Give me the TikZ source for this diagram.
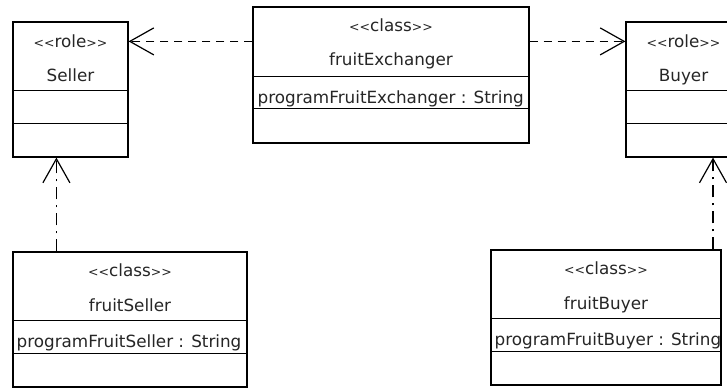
\documentclass[tikz,border=0pt]{standalone}
\usepackage{fontspec}
\newfontfamily\umlfont{DejaVu Sans}
\usetikzlibrary{arrows.meta,calc,shadows}
\newcommand{\lt}{{\fontsize{12.5}{14}\selectfont<{}<}}
\newcommand{\gt}{{\fontsize{12.5}{14}\selectfont>{}>}}
\begin{document}
\begin{tikzpicture}[x=1pt,y=1pt,
  umlbox/.style={draw=black,line width=1.2pt,fill=white,rectangle,inner sep=0pt,
     drop shadow={shadow xshift=1.3pt,shadow yshift=-1.3pt,fill=black,opacity=0.3}},
  lbl/.style={inner sep=0pt,anchor=base,font=\umlfont\fontsize{16.8}{20}\selectfont,text=black!85},
  attr/.style={inner sep=0pt,anchor=base west,font=\umlfont\fontsize{16.8}{20}\selectfont,text=black!85},
  sep/.style={line width=1.1pt},
  dep/.style={line width=1.2pt,dash pattern=on 8pt off 6pt,-{Straight Barb[length=24pt,width=27pt]}},
  real/.style={line width=1.2pt,dash pattern=on 12pt off 6pt on 2pt off 6pt,-{Straight Barb[length=24pt,width=27pt]}}
]
\clip (0,0) rectangle (727,388);
\fill[white] (0,0) rectangle (727,388);
% boxes
\node[umlbox,minimum width=115pt,minimum height=135pt] (seller) at (70.5,298.5) {};
\node[umlbox,minimum width=276pt,minimum height=136pt] (ex) at (391,313) {};
\node[umlbox,minimum width=115pt,minimum height=135pt] (buyer) at (683.5,298.5) {};
\node[umlbox,minimum width=234pt,minimum height=135pt] (fs) at (130,68.5) {};
\node[umlbox,minimum width=230pt,minimum height=135pt] (fb) at (606,70.5) {};
% compartments
\draw[sep] ($(seller.north west)+(0,-69)$) -- ($(seller.north east)+(0,-69)$);
\draw[sep] ($(seller.north west)+(0,-102)$) -- ($(seller.north east)+(0,-102)$);
\draw[sep] ($(buyer.north west)+(0,-69)$) -- ($(buyer.north east)+(0,-69)$);
\draw[sep] ($(buyer.north west)+(0,-102)$) -- ($(buyer.north east)+(0,-102)$);
\draw[sep] ($(ex.north west)+(0,-70)$) -- ($(ex.north east)+(0,-70)$);
\draw[sep] ($(ex.north west)+(0,-102)$) -- ($(ex.north east)+(0,-102)$);
\draw[sep] ($(fs.north west)+(0,-69)$) -- ($(fs.north east)+(0,-69)$);
\draw[sep] ($(fs.north west)+(0,-102)$) -- ($(fs.north east)+(0,-102)$);
\draw[sep] ($(fb.north west)+(0,-69)$) -- ($(fb.north east)+(0,-69)$);
\draw[sep] ($(fb.north west)+(0,-102)$) -- ($(fb.north east)+(0,-102)$);
% texts
\node[lbl] (sellerst) at ($(seller.north)+(0,-26)$) {\lt role\gt};
\node[lbl] (sellernm) at ($(seller.north)+(0,-60)$) {Seller};
\node[lbl] (buyerst) at ($(buyer.north)+(0,-26)$) {\lt role\gt};
\node[lbl] (buyernm) at ($(buyer.north)+(0,-60)$) {Buyer};
\node[lbl] (exst) at ($(ex.north)+(0,-25.5)$) {\lt class\gt};
\node[lbl] (exnm) at ($(ex.north)+(0,-59)$) {fruitExchanger};
\node[attr] (exat) at ($(ex.north west)+(5,-97)$) {programFruitExchanger : String};
\node[lbl] (fsst) at ($(fs.north)+(0,-25.5)$) {\lt class\gt};
\node[lbl] (fsnm) at ($(fs.north)+(0,-60)$) {fruitSeller};
\node[attr] (fsat) at ($(fs.north west)+(4,-96)$) {programFruitSeller : String};
\node[lbl] (fbst) at ($(fb.north)+(0,-25.5)$) {\lt class\gt};
\node[lbl] (fbnm) at ($(fb.north)+(0,-60)$) {fruitBuyer};
\node[attr] (fbat) at ($(fb.north west)+(4,-96)$) {programFruitBuyer : String};
% connectors
\coordinate (hl) at ($(seller.north east)+(0,-20)$);
\draw[dep] (ex.west |- hl) -- (seller.east |- hl);
\draw[dep] (ex.east |- hl) -- (buyer.west |- hl);
\coordinate (vl) at ($(seller.south west)+(44,0)$);
\draw[real] (fs.north -| vl) -- (seller.south -| vl);
\coordinate (vr) at (713,0);
\draw[real] (fb.north -| vr) -- (buyer.south -| vr);
\end{tikzpicture}
\end{document}
